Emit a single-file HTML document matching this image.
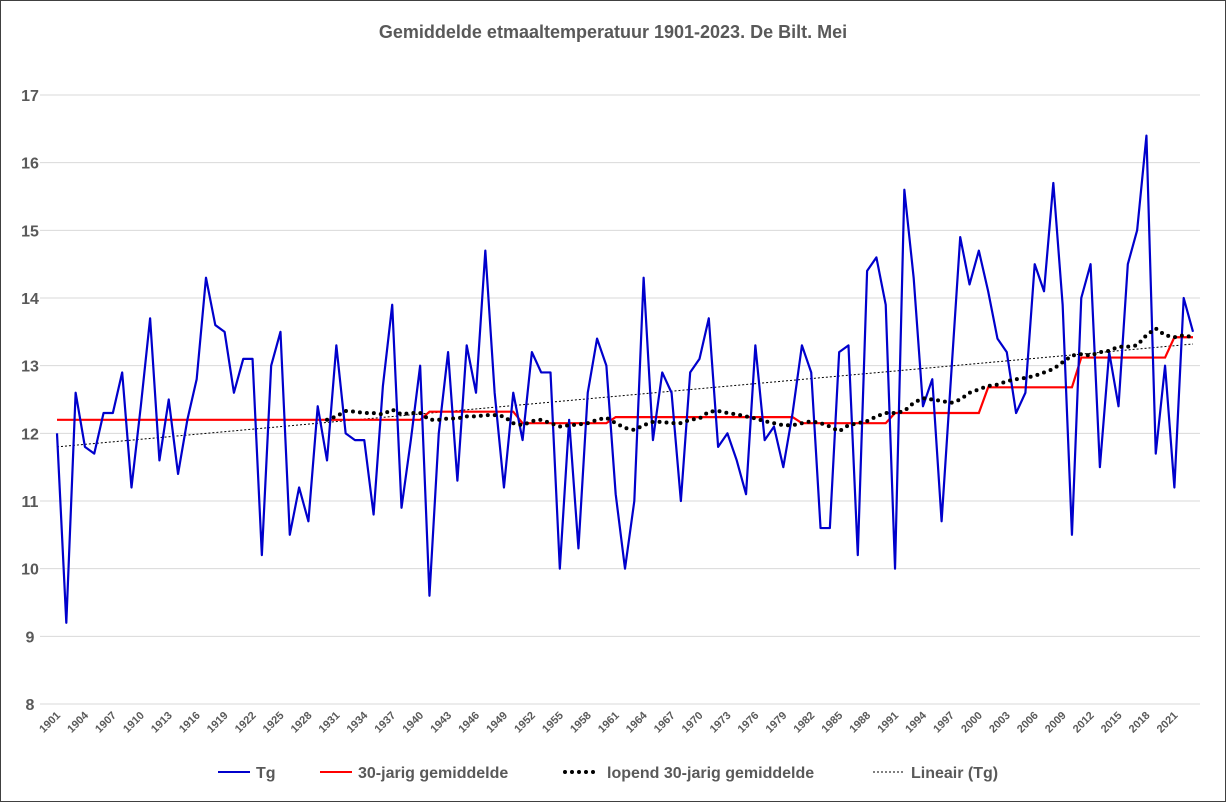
<!DOCTYPE html>
<html><head><meta charset="utf-8"><style>
body{margin:0;background:#fff;}
svg{display:block;font-family:"Liberation Sans",sans-serif;}
</style></head><body>
<svg id="chart" width="1226" height="802" viewBox="0 0 1226 802">
<rect x="0.5" y="0.5" width="1225" height="801" fill="#fff" stroke="#404040" stroke-width="1"/>
<text x="613" y="38" text-anchor="middle" font-size="18" font-weight="bold" fill="#595959">Gemiddelde etmaaltemperatuur 1901-2023. De Bilt. Mei</text>
<g id="grid"></g><g id="series"></g><g id="xlabels"></g>
<g font-size="16" font-weight="bold" fill="#595959">
<line x1="218" y1="772" x2="250" y2="772" stroke="#0000cc" stroke-width="2"/><text x="256" y="778">Tg</text>
<line x1="320" y1="772" x2="352" y2="772" stroke="#ff0000" stroke-width="2"/><text x="358" y="778">30-jarig gemiddelde</text>
<line x1="565" y1="772" x2="600" y2="772" stroke="#000" stroke-width="4" stroke-dasharray="0 7" stroke-linecap="round"/><text x="607" y="778">lopend 30-jarig gemiddelde</text>
<line x1="873" y1="772" x2="905" y2="772" stroke="#000" stroke-width="1" stroke-dasharray="2 2"/><text x="911" y="778">Lineair (Tg)</text>
</g>
</svg>
<script>
const years=[];for(let y=1901;y<=2023;y++)years.push(y);
const tg=[12.0,9.2,12.6,11.8,11.7,12.3,12.3,12.9,11.2,12.4,13.7,11.6,12.5,11.4,12.2,12.8,14.3,13.6,13.5,12.6,13.1,13.1,10.2,13.0,13.5,10.5,11.2,10.7,12.4,11.6,13.3,12.0,11.9,11.9,10.8,12.7,13.9,10.9,11.9,13.0,9.6,12.0,13.2,11.3,13.3,12.6,14.7,12.6,11.2,12.6,11.9,13.2,12.9,12.9,10.0,12.2,10.3,12.6,13.4,13.0,11.1,10.0,11.0,14.3,11.9,12.9,12.6,11.0,12.9,13.1,13.7,11.8,12.0,11.6,11.1,13.3,11.9,12.1,11.5,12.3,13.3,12.9,10.6,10.6,13.2,13.3,10.2,14.4,14.6,13.9,10.0,15.6,14.3,12.4,12.8,10.7,12.8,14.9,14.2,14.7,14.1,13.4,13.2,12.3,12.6,14.5,14.1,15.7,13.9,10.5,14.0,14.5,11.5,13.2,12.4,14.5,15.0,16.4,11.7,13.0,11.2,14.0,13.5];
const periodStart=[1901,1941,1951,1961,1981,1991,2001,2011,2021];
const periodEnd=[1940,1950,1960,1980,1990,2000,2010,2020,2023];
const periodMean=[12.2,12.32,12.15,12.24,12.15,12.3,12.68,13.12,13.42];
const runStart=1930;
const running=[12.2,12.25,12.33,12.32,12.3,12.3,12.28,12.35,12.28,12.3,12.3,12.2,12.2,12.22,12.22,12.25,12.25,12.27,12.27,12.25,12.15,12.12,12.18,12.2,12.15,12.1,12.12,12.13,12.15,12.2,12.23,12.15,12.08,12.05,12.12,12.17,12.17,12.15,12.15,12.2,12.22,12.32,12.33,12.3,12.28,12.25,12.22,12.18,12.15,12.12,12.12,12.15,12.18,12.15,12.1,12.03,12.12,12.15,12.18,12.25,12.3,12.3,12.33,12.45,12.52,12.5,12.48,12.45,12.5,12.6,12.65,12.7,12.72,12.77,12.8,12.82,12.85,12.9,12.95,13.05,13.15,13.17,13.15,13.2,13.22,13.28,13.28,13.3,13.45,13.55,13.45,13.42,13.45,13.42];
const trendStart=11.8, trendEnd=13.32;
const yTicks=[8,9,10,11,12,13,14,15,16,17];

const NS='http://www.w3.org/2000/svg';
const X=yr=>57+(yr-1901)*(1193-57)/122;
const Y=v=>704-(v-8)*(704-95)/9;
function mk(tag,attrs,parent){const e=document.createElementNS(NS,tag);for(const k in attrs)e.setAttribute(k,attrs[k]);parent.appendChild(e);return e;}
const grid=document.getElementById('grid'),ser=document.getElementById('series'),xl=document.getElementById('xlabels');
yTicks.forEach(t=>{
 const l=mk('line',{x1:40,x2:1200,y1:Y(t),y2:Y(t),stroke:'#d9d9d9','stroke-width':1},grid);
 
 
 const tx=mk('text',{x:30,y:Y(t)+6,'text-anchor':'middle','font-size':16,'font-weight':'bold',fill:'#595959'},grid);
 tx.textContent=t;
 
 
});
years.forEach((yr,i)=>{ if(i%3!==0)return;
 const tx=mk('text',{x:X(yr)+4,y:716,'text-anchor':'end','font-size':11,'font-weight':'bold',fill:'#595959',transform:`rotate(-45 ${X(yr)+4} 716)`},xl);
 tx.textContent=yr;
 
 
});
const tr=mk('line',{x1:X(1901),y1:Y(trendStart),x2:X(2023),y2:Y(trendEnd),stroke:'#000','stroke-width':1,'stroke-dasharray':'2 2'},ser);


let pts=[];periodStart.forEach((s,i)=>{pts.push(X(s)+' '+Y(periodMean[i]));pts.push(X(periodEnd[i])+' '+Y(periodMean[i]));});
const red=mk('polyline',{points:pts.join(' '),fill:'none',stroke:'#ff0000','stroke-width':2.2},ser);


const rp=running.map((v,i)=>X(runStart+i)+','+Y(v)).join(' ');
const run=mk('polyline',{points:rp,fill:'none',stroke:'#000','stroke-width':4,'stroke-dasharray':'0 7','stroke-linecap':'round'},ser);


const bp=tg.map((v,i)=>X(years[i])+','+Y(v)).join(' ');
const blue=mk('polyline',{points:bp,fill:'none',stroke:'#0000cc','stroke-width':2.2,'stroke-linejoin':'round'},ser);


ser.appendChild(run);
</script>
</body></html>
